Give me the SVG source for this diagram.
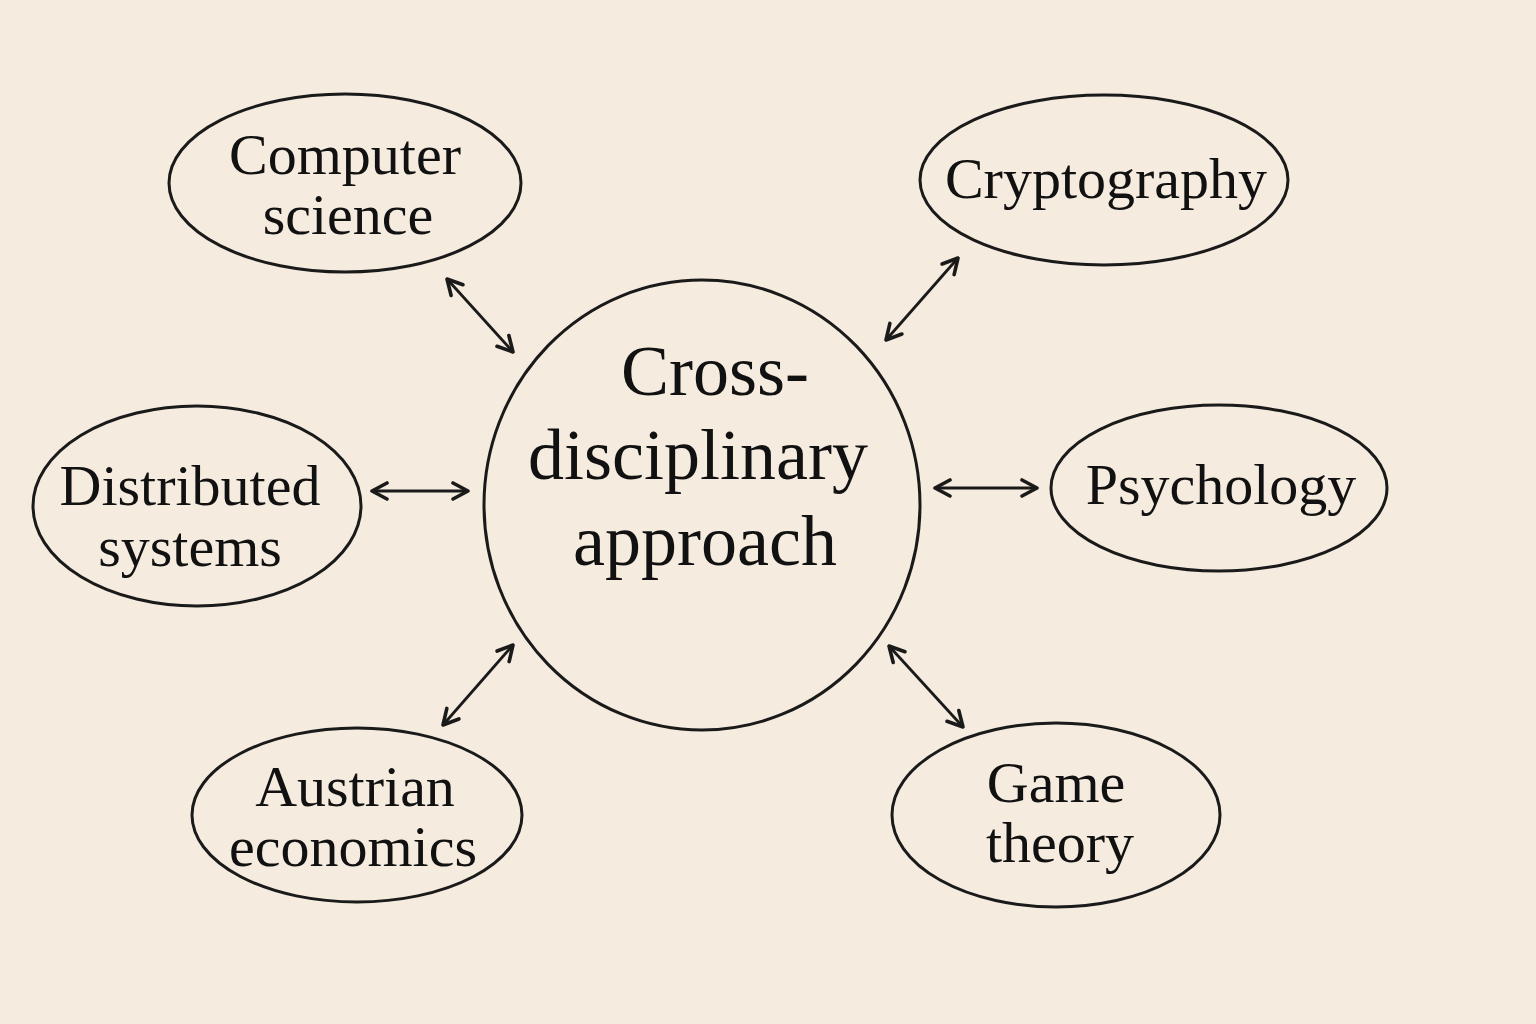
<svg xmlns="http://www.w3.org/2000/svg" width="1536" height="1024" viewBox="0 0 1536 1024">
<style>
.bg{fill:#f5ebdf}
.node{fill:none;stroke:#1a1a1a;stroke-width:3}
.lbl{font-family:"Liberation Serif","Times New Roman",serif;font-size:58px;fill:#111;text-anchor:middle}
.big{font-size:72px}
.conn{stroke:#1a1a1a;stroke-width:2.8;fill:none;marker-start:url(#ah);marker-end:url(#ah)}
</style>
<defs>
<marker id="ah" viewBox="0 0 22 22" refX="20" refY="11" markerWidth="22" markerHeight="22" markerUnits="userSpaceOnUse" orient="auto-start-reverse">
<path d="M5,3 L20,11 L5,19" fill="none" stroke="#1a1a1a" stroke-width="3.6" stroke-linecap="round" stroke-linejoin="round"/>
</marker>
</defs>
<rect class="bg" width="1536" height="1024"/>
<g id="center">
<ellipse class="node" cx="702" cy="505" rx="218" ry="225" stroke-width="2.6"/>
<text class="lbl big" x="715" y="395">Cross-</text>
<text class="lbl big" x="698" y="479">disciplinary</text>
<text class="lbl big" x="705" y="565">approach</text>
</g>
<g id="computer-science">
<ellipse class="node" cx="345" cy="183" rx="176" ry="89"/>
<text class="lbl" x="345" y="174" font-size="60">Computer</text>
<text class="lbl" x="348" y="234">science</text>
</g>
<g id="cryptography">
<ellipse class="node" cx="1104" cy="180" rx="184" ry="85"/>
<text class="lbl" x="1106" y="198">Cryptography</text>
</g>
<g id="distributed-systems">
<ellipse class="node" cx="197" cy="506" rx="164" ry="100"/>
<text class="lbl" x="190" y="505">Distributed</text>
<text class="lbl" x="190" y="566">systems</text>
</g>
<g id="psychology">
<ellipse class="node" cx="1219" cy="488" rx="168" ry="83"/>
<text class="lbl" x="1221" y="504">Psychology</text>
</g>
<g id="austrian-economics">
<ellipse class="node" cx="357" cy="815" rx="165" ry="87"/>
<text class="lbl" x="355" y="806">Austrian</text>
<text class="lbl" x="353" y="866">economics</text>
</g>
<g id="game-theory">
<ellipse class="node" cx="1056" cy="815" rx="164" ry="92"/>
<text class="lbl" x="1056" y="802">Game</text>
<text class="lbl" x="1060" y="862">theory</text>
</g>
<g id="connectors">
<line class="conn" x1="447" y1="279" x2="513" y2="352"/>
<line class="conn" x1="958" y1="258" x2="886" y2="340"/>
<line class="conn" x1="372" y1="491" x2="468" y2="491"/>
<line class="conn" x1="935" y1="488" x2="1037" y2="488"/>
<line class="conn" x1="513" y1="645" x2="443" y2="725"/>
<line class="conn" x1="889" y1="646" x2="963" y2="727"/>
</g>
</svg>
